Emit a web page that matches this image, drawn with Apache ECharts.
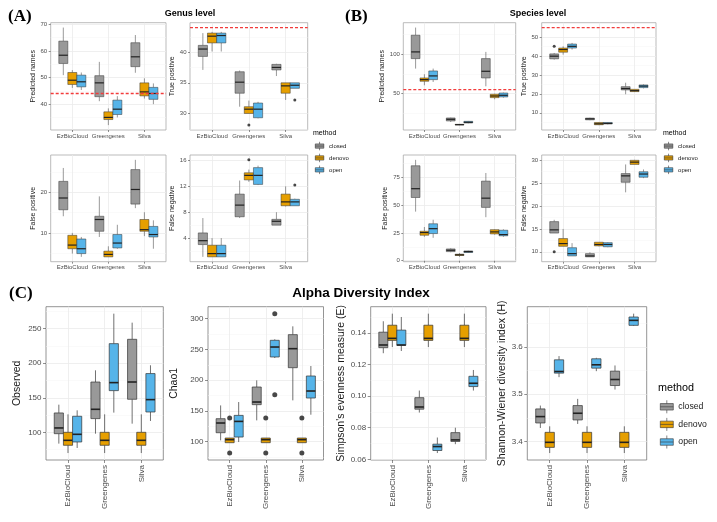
<!DOCTYPE html>
<html><head><meta charset="utf-8">
<script src="https://cdn.jsdelivr.net/npm/echarts@6/dist/echarts.min.js"></script>
<style>html,body{margin:0;padding:0;background:#fff}#c{width:717px;height:522px}</style>
</head><body><div id="c"></div>
<script>
const categories = ['EzBioCloud', 'Greengenes', 'Silva'];
const methods = ['closed', 'denovo', 'open'];
const methodColors = ['#999999', '#E69F00', '#56B4E9'];
const genusExpected = 44;
const speciesExpected = 55;

// each: [closed, denovo, open]; each method: per category [min, q1, median, q3, max]
const genusPredicted = [
  [[50.9, 55.3, 58.4, 63.7, 68.8], [41.1, 42.8, 48.0, 50.7, 55.9], [51.8, 54.1, 57.8, 63.1, 66.0]],
  [[46.1, 47.4, 49.0, 51.9, 52.8], [32.1, 34.2, 35.0, 37.1, 38.4], [42.1, 43.1, 44.6, 48.0, 49.7]],
  [[45.3, 46.5, 48.4, 50.9, 51.9], [35.0, 36.1, 38.1, 41.5, 43.0], [40.0, 41.8, 44.0, 46.3, 47.8]]
];
const genusPredictedOutliers = [];
const genusPredictedTicks = [40, 50, 60, 70];

const genusTrue = [
  [[37.1, 39.3, 40.5, 41.1, 43.1], [31.1, 33.3, 35.1, 36.8, 37.0], [36.1, 37.1, 37.5, 38.0, 38.1]],
  [[40.1, 41.5, 42.6, 43.1, 43.3], [30.0, 30.0, 30.7, 31.1, 32.1], [32.2, 33.3, 34.5, 35.0, 35.0]],
  [[40.1, 41.5, 42.7, 43.1, 43.3], [29.2, 29.3, 30.7, 31.7, 31.9], [34.1, 34.1, 34.6, 35.0, 35.0]]
];
const genusTrueOutliers = [[1, 1, 28.1], [2, 2, 32.2]]; // [method, category, value]
const genusTrueTicks = [30, 35, 40];

const genusFalsePos = [
  [[14.1, 15.7, 18.6, 22.7, 26.0], [9.0, 10.4, 13.3, 14.1, 19.0], [16.1, 17.1, 20.7, 25.6, 28.0]],
  [[4.9, 6.1, 7.0, 9.4, 10.0], [4.1, 4.1, 4.7, 5.5, 6.7], [9.2, 10.4, 10.8, 13.3, 15.1]],
  [[4.1, 4.9, 6.1, 8.5, 9.0], [6.1, 6.3, 7.5, 9.6, 12.0], [6.1, 9.0, 9.6, 11.6, 13.1]]
];
const genusFalsePosOutliers = [];
const genusFalsePosTicks = [10, 20];

const genusFalseNeg = [
  [[1.1, 3.0, 3.6, 4.8, 7.1], [7.1, 7.3, 9.1, 10.8, 12.9], [6.0, 6.0, 6.6, 6.9, 8.0]],
  [[1.1, 1.1, 1.6, 2.9, 4.0], [12.7, 13.0, 13.7, 14.1, 14.6], [8.9, 9.0, 9.6, 10.8, 12.0]],
  [[1.1, 1.1, 1.6, 2.9, 4.0], [12.2, 12.3, 13.7, 14.9, 15.2], [9.0, 9.0, 9.6, 10.0, 10.1]]
];
const genusFalseNegOutliers = [[1, 1, 16.1], [2, 2, 12.2]];
const genusFalseNegTicks = [4, 8, 12, 16];

const speciesPredicted = [
  [[81.8, 94.5, 103.0, 124.2, 133.9], [14.0, 15.3, 17.4, 19.1, 19.5], [59.3, 69.9, 78.4, 94.5, 103.0]],
  [[60.6, 65.7, 67.8, 69.9, 74.6], [10.0, 10.2, 10.6, 11.0, 11.4], [42.8, 44.9, 47.0, 49.2, 50.0]],
  [[64.8, 67.8, 72.5, 78.8, 81.8], [12.3, 12.7, 13.6, 14.8, 15.3], [44.9, 45.8, 47.9, 50.8, 51.3]]
];
const speciesPredictedOutliers = [];
const speciesPredictedTicks = [50, 100];

const speciesTrue = [
  [[38.1, 38.5, 39.9, 41.1, 41.6], [6.1, 6.3, 6.8, 7.2, 7.4], [19.8, 22.1, 22.8, 23.8, 25.9]],
  [[40.7, 42.0, 43.4, 44.2, 45.1], [3.5, 3.7, 4.2, 4.9, 5.1], [21.0, 21.2, 21.7, 22.4, 22.4]],
  [[43.4, 44.2, 45.1, 46.3, 46.9], [3.9, 4.1, 4.4, 4.9, 5.1], [22.9, 23.3, 24.1, 24.7, 25.0]]
];
const speciesTrueOutliers = [[0, 0, 45.1]];
const speciesTrueTicks = [10, 20, 30, 40, 50];

const speciesFalsePos = [
  [[44.1, 56.8, 64.7, 85.3, 90.6], [7.6, 8.2, 9.4, 10.6, 11.2], [39.1, 47.9, 56.2, 71.5, 78.8]],
  [[21.5, 22.9, 25.3, 26.5, 30.3], [3.5, 4.7, 5.3, 5.9, 6.8], [23.5, 24.1, 25.9, 27.9, 28.2]],
  [[20.6, 24.4, 28.8, 33.2, 36.8], [7.1, 7.4, 8.2, 8.8, 9.1], [21.5, 22.4, 23.5, 27.4, 28.2]]
];
const speciesFalsePosOutliers = [];
const speciesFalsePosTicks = [0, 25, 50, 75];

const speciesFalseNeg = [
  [[14.1, 14.1, 14.8, 16.6, 17.0], [8.9, 8.9, 9.1, 9.6, 9.9], [23.0, 25.2, 26.6, 27.1, 29.1]],
  [[11.2, 11.2, 11.8, 12.9, 15.0], [11.2, 11.3, 11.6, 12.1, 12.1], [29.1, 29.1, 29.6, 30.0, 30.1]],
  [[9.1, 9.1, 9.6, 10.9, 11.9], [11.0, 11.1, 11.6, 12.0, 12.1], [26.1, 26.3, 27.0, 27.5, 28.0]]
];
const speciesFalseNegOutliers = [[0, 0, 10.0]];
const speciesFalseNegTicks = [10, 15, 20, 25, 30];

const observed = [
  [[83.6, 98.0, 106.3, 128.0, 140.0], [98.0, 119.8, 133.3, 172.8, 189.7], [112.5, 147.8, 172.8, 234.6, 258.7]],
  [[70.0, 81.2, 88.4, 100.0, 126.0], [70.0, 81.2, 88.4, 100.0, 126.0], [70.0, 81.2, 88.4, 100.0, 126.0]],
  [[77.3, 86.0, 97.1, 123.2, 131.8], [128.5, 160.3, 171.9, 228.3, 271.7], [116.4, 129.4, 147.3, 185.0, 197.0]]
];
const observedOutliers = [];
const observedTicks = [100, 150, 200, 250];

const chao1 = [
  [[102.2, 114.6, 130.4, 137.4, 159.0], [134.7, 160.2, 164.5, 188.9, 199.7], [167.2, 220.3, 251.2, 274.0, 287.5]],
  [[98.4, 98.4, 103.3, 106.0, 106.0], [98.4, 98.4, 103.3, 106.0, 106.0], [98.4, 98.4, 103.3, 106.0, 106.0]],
  [[99.5, 107.6, 133.0, 142.8, 164.5], [236.0, 237.7, 253.9, 264.8, 266.4], [143.9, 171.0, 182.4, 206.8, 223.0]]
];
const chao1Outliers = [[1, 0, 138.5], [1, 0, 81.6], [1, 1, 138.5], [1, 1, 81.6], [1, 2, 138.5], [1, 2, 81.6], [2, 1, 308.1], [2, 1, 176.4]];
const chao1Ticks = [100, 150, 200, 250, 300];

const simpson = [
  [[0.1271, 0.1306, 0.1323, 0.1404, 0.1473], [0.0896, 0.0917, 0.0931, 0.0990, 0.1035], [0.0696, 0.0713, 0.0723, 0.0769, 0.0800]],
  [[0.1310, 0.1352, 0.1365, 0.1448, 0.1521], [0.1310, 0.1352, 0.1365, 0.1448, 0.1521], [0.1310, 0.1352, 0.1365, 0.1448, 0.1521]],
  [[0.1285, 0.1321, 0.1323, 0.1417, 0.1500], [0.0640, 0.0656, 0.0681, 0.0696, 0.0738], [0.1035, 0.1060, 0.1081, 0.1125, 0.1165]]
];
const simpsonOutliers = [];
const simpsonTicks = [0.06, 0.08, 0.10, 0.12, 0.14];

const shannon = [
  [[3.4284, 3.4390, 3.4525, 3.4688, 3.4759], [3.4369, 3.4454, 3.4596, 3.4759, 3.4901], [3.5099, 3.5184, 3.5312, 3.5489, 3.5610]],
  [[3.3752, 3.3872, 3.3979, 3.4191, 3.4319], [3.3752, 3.3872, 3.3979, 3.4191, 3.4319], [3.3752, 3.3872, 3.3979, 3.4191, 3.4319]],
  [[3.5362, 3.5447, 3.5482, 3.5730, 3.5809], [3.5489, 3.5553, 3.5624, 3.5752, 3.5773], [3.6447, 3.6461, 3.6567, 3.6638, 3.6709]]
];
const shannonOutliers = [];
const shannonTicks = [3.4, 3.5, 3.6];

// ---------- layout (positions / styles only) ----------
const panels = [
  {data: genusPredicted, out: genusPredictedOutliers, ticks: genusPredictedTicks, ref: genusExpected, name: 'Predicted names', box: [50.7, 22.7, 115.3, 107.3], gap: 13, big: false},
  {data: genusTrue, out: genusTrueOutliers, ticks: genusTrueTicks, ref: genusExpected, name: 'True positive', box: [190, 22.7, 117.7, 107.3], gap: 9, big: false},
  {data: genusFalsePos, out: genusFalsePosOutliers, ticks: genusFalsePosTicks, name: 'False positive', box: [50.7, 155, 115.3, 106.7], gap: 11.4, big: false},
  {data: genusFalseNeg, out: genusFalseNegOutliers, ticks: genusFalseNegTicks, name: 'False negative', box: [190, 155, 117.7, 106.7], gap: 9, big: false},
  {data: speciesPredicted, out: speciesPredictedOutliers, ticks: speciesPredictedTicks, ref: speciesExpected, name: 'Predicted names', box: [403.3, 22.7, 112.4, 107.3], gap: 14.3, big: false},
  {data: speciesTrue, out: speciesTrueOutliers, ticks: speciesTrueTicks, ref: speciesExpected, name: 'True positive', box: [541.7, 22.7, 114.3, 107.3], gap: 13.7, big: false},
  {data: speciesFalsePos, out: speciesFalsePosOutliers, ticks: speciesFalsePosTicks, name: 'False positive', box: [403.3, 155, 112.4, 106.7], gap: 15, big: false},
  {data: speciesFalseNeg, out: speciesFalseNegOutliers, ticks: speciesFalseNegTicks, name: 'False negative', box: [541.7, 155, 114.3, 106.7], gap: 13.7, big: false},
  {data: observed, out: observedOutliers, ticks: observedTicks, name: 'Observed', box: [46, 306.7, 117.3, 153.3], gap: 23, big: true},
  {data: chao1, out: chao1Outliers, ticks: chao1Ticks, name: 'Chao1', box: [208, 306.7, 115.5, 153.3], gap: 28, big: true},
  {data: simpson, out: simpsonOutliers, ticks: simpsonTicks, name: "Simpson's evenness measure (E)", box: [370.7, 306.7, 115.3, 153.3], gap: 22.7, big: true, dec: 2},
  {data: shannon, out: shannonOutliers, ticks: shannonTicks, name: 'Shannon-Wiener diversity index (H)', box: [527.3, 306.7, 119.4, 153.3], gap: 20, big: true, dec: 1}
];

const FONT = '"Liberation Sans", Arial, Helvetica, sans-serif';
const styleSmall = {border: '#aaaaaa', tick: 2, tickFont: 6, catFont: 6, nameFont: 7, lw: 0.5, mw: 1.2, dot: 3, xMargin: 3, yMargin: 3.5};
const styleBig = {border: '#7a7a7a', tick: 3, tickFont: 8, catFont: 8, nameFont: 10.5, lw: 0.7, mw: 1.6, dot: 5, xMargin: 5, yMargin: 4.5};
const REF_RED = '#f23c3c';

function boxRenderer(k, lw, mw) {
  const off = (k - 1) * 0.25, hw = 0.125;
  return function (params, api) {
    const x = api.value(0) + off;
    const lo = api.coord([x - hw, api.value(2)]);
    const hi = api.coord([x + hw, api.value(4)]);
    const md = api.coord([x, api.value(3)]);
    const wmin = api.coord([x, api.value(1)]);
    const wmax = api.coord([x, api.value(5)]);
    const color = api.visual('color');
    const stroke = '#333333';
    return {
      type: 'group',
      children: [
        {type: 'line', shape: {x1: md[0], y1: wmax[1], x2: md[0], y2: hi[1]}, style: {stroke, lineWidth: lw}},
        {type: 'line', shape: {x1: md[0], y1: lo[1], x2: md[0], y2: wmin[1]}, style: {stroke, lineWidth: lw}},
        {type: 'rect', shape: {x: lo[0], y: hi[1], width: hi[0] - lo[0], height: lo[1] - hi[1]}, style: {fill: color, stroke, lineWidth: lw}},
        {type: 'line', shape: {x1: lo[0], y1: md[1], x2: hi[0], y2: md[1]}, style: {stroke: '#222222', lineWidth: mw}}
      ]
    };
  };
}

function refLineRenderer(params, api) {
  const cs = params.coordSys;
  const y = api.coord([1, api.value(0)])[1];
  return {type: 'line', z2: 100, shape: {x1: cs.x, y1: y, x2: cs.x + cs.width, y2: y},
    style: {stroke: REF_RED, lineWidth: 1.3, lineDash: [3, 2], opacity: 1}};
}

function catLabelRenderer(yMin, margin, font) {
  return function (params, api) {
    const pt = api.coord([api.value(0), yMin]);
    return {type: 'text', x: pt[0], y: pt[1] + margin, rotation: Math.PI / 2,
      style: {text: categories[params.dataIndex], font, fill: '#4d4d4d', align: 'right', verticalAlign: 'middle'}};
  };
}

const grids = [], xAxes = [], yAxes = [], series = [];
panels.forEach((p, i) => {
  const s = p.big ? styleBig : styleSmall;
  // y range like ggplot: data range expanded by 5%
  let vals = [];
  p.data.forEach(m => m.forEach(r => vals.push(r[0], r[4])));
  p.out.forEach(o => vals.push(o[2]));
  if (p.ref !== undefined) vals.push(p.ref);
  const lo0 = Math.min(...vals), hi0 = Math.max(...vals);
  const pad = (hi0 - lo0) * 0.05;
  const lo = lo0 - pad, hi = hi0 + pad;
  const step = p.ticks[1] - p.ticks[0];
  const minors = [];
  for (let v = p.ticks[0] - step / 2; v <= hi; v += step) if (v >= lo) minors.push(+v.toFixed(6));

  grids.push({left: p.box[0], top: p.box[1], width: p.box[2], height: p.box[3], show: true,
    borderColor: s.border, borderWidth: 0.8, backgroundColor: '#ffffff'});

  xAxes.push({
    type: 'value', gridIndex: i, min: 0.4, max: 3.6,
    axisLine: {show: false},
    axisTick: {show: true, length: s.tick, customValues: [1, 2, 3], lineStyle: {color: '#444', width: 0.6}},
    axisLabel: {show: !p.big, customValues: [1, 2, 3], formatter: v => categories[Math.round(v) - 1],
      fontSize: s.catFont, color: '#4d4d4d', fontFamily: FONT, margin: s.xMargin},
    splitLine: {show: true, lineStyle: {color: '#ebebeb', width: 0.8}}
  });

  yAxes.push({
    type: 'value', gridIndex: i, min: lo, max: hi,
    name: p.name, nameLocation: 'middle', nameGap: p.gap,
    nameTextStyle: {fontSize: s.nameFont, color: '#1a1a1a', fontFamily: FONT},
    axisLine: {show: false},
    axisTick: {show: true, length: s.tick, customValues: p.ticks, lineStyle: {color: '#444', width: 0.6}},
    axisLabel: {customValues: p.ticks, fontSize: s.tickFont, color: '#4d4d4d', fontFamily: FONT, margin: s.yMargin,
      formatter: v => p.dec ? v.toFixed(p.dec) : String(Math.round(v))},
    splitLine: {show: true, lineStyle: {color: '#ebebeb', width: 0.8}}
  });
  yAxes.push({
    type: 'value', gridIndex: i, min: lo, max: hi, position: 'right',
    axisLine: {show: false},
    axisTick: {show: false, customValues: minors},
    axisLabel: {show: false, customValues: minors},
    splitLine: {show: true, lineStyle: {color: '#f4f4f4', width: 0.5}}
  });

  methods.forEach((m, k) => {
    series.push({
      type: 'custom', name: m, xAxisIndex: i, yAxisIndex: 2 * i,
      itemStyle: {color: methodColors[k]},
      renderItem: boxRenderer(k, s.lw, s.mw),
      encode: {x: 0, y: [1, 2, 3, 4, 5]},
      data: p.data[k].map((r, ci) => [ci + 1].concat(r)),
      silent: true
    });
  });

  series.push({
    type: 'scatter', name: 'outliers', xAxisIndex: i, yAxisIndex: 2 * i,
    symbolSize: s.dot, itemStyle: {color: '#1a1a1a'}, silent: true,
    data: p.out.map(o => [o[1] + 1 + (o[0] - 1) * 0.25, o[2]])
  });

  if (p.ref !== undefined) {
    series.push({
      type: 'custom', name: 'expected' + i, xAxisIndex: i, yAxisIndex: 2 * i, silent: true,
      itemStyle: {color: REF_RED}, z: 10,
      renderItem: refLineRenderer, encode: {y: 0}, data: [[p.ref]]
    });
  }

  if (p.big) {
    series.push({
      type: 'custom', name: 'categoryLabels', xAxisIndex: i, yAxisIndex: 2 * i, silent: true, clip: false,
      renderItem: catLabelRenderer(lo, s.xMargin, s.catFont + 'px ' + FONT),
      encode: {x: 0}, data: categories.map((c, ci) => [ci + 1])
    });
  }
});

const iconPath = 'path://M5,0L5,2.5M0,2.5L10,2.5L10,7.5L0,7.5ZM0,5L10,5M5,7.5L5,10';
function legendAt(left, top, w, h, gap, fs) {
  return {
    left, top, orient: 'vertical', padding: 0, data: methods, icon: iconPath,
    itemWidth: w, itemHeight: h, itemGap: gap, selectedMode: false,
    itemStyle: {borderColor: '#333333', borderWidth: 0.6},
    textStyle: {fontSize: fs, color: '#1a1a1a', fontFamily: FONT}
  };
}

function txt(x, y, text, font, align) {
  return {type: 'text', x, y, silent: true,
    style: {text, font, fill: '#000', align: align || 'left', verticalAlign: 'middle'}};
}

const chart = echarts.init(document.getElementById('c'), null, {renderer: 'canvas'});
chart.setOption({
  animation: false,
  backgroundColor: '#ffffff',
  grid: grids, xAxis: xAxes, yAxis: yAxes, series,
  legend: [
    legendAt(315, 141.5, 9, 8.5, 2.8, 6),
    legendAt(664, 141.5, 9, 8.5, 2.8, 6),
    legendAt(660, 400, 13, 13.3, 4, 8.7)
  ],
  graphic: [
    txt(8, 17, '(A)', 'bold 17px "Liberation Serif", "Times New Roman", serif'),
    txt(190, 14, 'Genus level', 'bold 9px ' + FONT, 'center'),
    txt(345, 17, '(B)', 'bold 17px "Liberation Serif", "Times New Roman", serif'),
    txt(538, 14, 'Species level', 'bold 9px ' + FONT, 'center'),
    txt(9, 294, '(C)', 'bold 17px "Liberation Serif", "Times New Roman", serif'),
    txt(361, 293, 'Alpha Diversity Index', 'bold 13.5px ' + FONT, 'center'),
    txt(313, 133, 'method', '7px ' + FONT),
    txt(663, 133, 'method', '7px ' + FONT),
    txt(658, 388, 'method', '10.8px ' + FONT)
  ]
});
</script></body></html>
